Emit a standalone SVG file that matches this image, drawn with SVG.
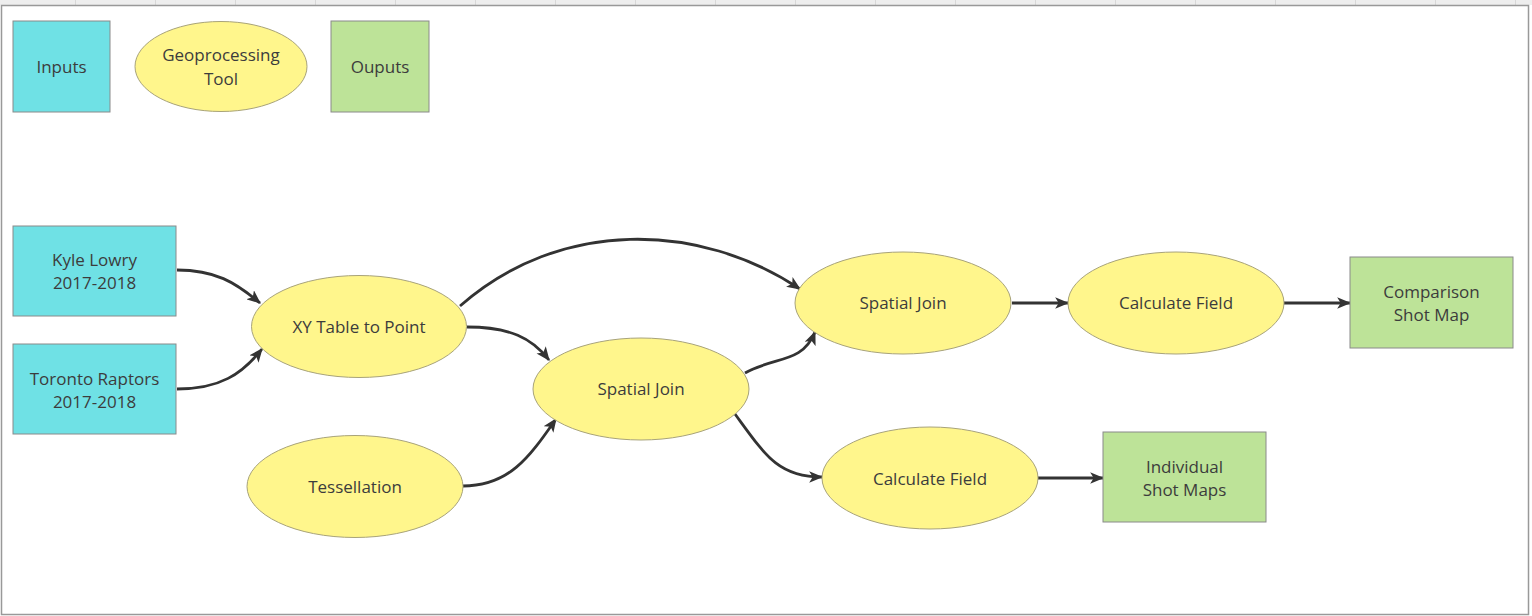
<svg xmlns="http://www.w3.org/2000/svg" width="1532" height="616" viewBox="0 0 1532 616">
  <defs>
    <style>
      .inp { fill: #6fe1e5; stroke: #8a8a8a; stroke-width: 1; }
      .out { fill: #bde398; stroke: #8a8a8a; stroke-width: 1; }
      .tool { fill: #fff68c; stroke: #a8a37a; stroke-width: 1; }
      .lbl { font-family: "Open Sans", "Noto Sans", "Liberation Sans", sans-serif; font-size: 17px; fill: #3c3c3c; text-anchor: middle; }
      .edge { fill: none; stroke: #333333; stroke-width: 2.8; }
      .grid { stroke: #d8d8d8; stroke-width: 1; }
    </style>
    <marker id="arr" viewBox="0 0 12 10" refX="11" refY="5" markerWidth="14" markerHeight="12" markerUnits="userSpaceOnUse" orient="auto">
      <path d="M0,0 L12,5 L0,10 L3,5 Z" fill="#333333"/>
    </marker>
  </defs>

  <rect x="0" y="0" width="1532" height="616" fill="#ffffff"/>
  <g id="header">
    <rect x="0" y="0" width="1532" height="5" fill="#eeeeee"/>
    <g class="grid">
      <line x1="75.5" y1="0" x2="75.5" y2="5"/><line x1="155.5" y1="0" x2="155.5" y2="5"/>
      <line x1="235.5" y1="0" x2="235.5" y2="5"/><line x1="315.5" y1="0" x2="315.5" y2="5"/>
      <line x1="395.5" y1="0" x2="395.5" y2="5"/><line x1="475.5" y1="0" x2="475.5" y2="5"/>
      <line x1="555.5" y1="0" x2="555.5" y2="5"/><line x1="635.5" y1="0" x2="635.5" y2="5"/>
      <line x1="715.5" y1="0" x2="715.5" y2="5"/><line x1="795.5" y1="0" x2="795.5" y2="5"/>
      <line x1="875.5" y1="0" x2="875.5" y2="5"/><line x1="955.5" y1="0" x2="955.5" y2="5"/>
      <line x1="1035.5" y1="0" x2="1035.5" y2="5"/><line x1="1115.5" y1="0" x2="1115.5" y2="5"/>
      <line x1="1195.5" y1="0" x2="1195.5" y2="5"/><line x1="1275.5" y1="0" x2="1275.5" y2="5"/>
      <line x1="1355.5" y1="0" x2="1355.5" y2="5"/><line x1="1435.5" y1="0" x2="1435.5" y2="5"/>
      <line x1="1515.5" y1="0" x2="1515.5" y2="5"/>
    </g>
    <rect x="1.5" y="5.5" width="1527" height="609" fill="none" stroke="#999999" stroke-width="1.5"/>
  </g>

  <g id="legend-inputs">
    <rect class="inp" x="13" y="21" width="97" height="91"/>
    <text class="lbl" x="61.5" y="73">Inputs</text>
  </g>
  <g id="legend-tool">
    <ellipse class="tool" cx="221" cy="66.5" rx="86" ry="45"/>
    <text class="lbl" x="221" y="61">Geoprocessing</text>
    <text class="lbl" x="221" y="85">Tool</text>
  </g>
  <g id="legend-outputs">
    <rect class="out" x="331" y="21" width="98" height="91"/>
    <text class="lbl" x="380" y="73">Ouputs</text>
  </g>

  <g id="connectors">
    <path class="edge" marker-end="url(#arr)" d="M177,270 C215,270 235,282 260,303"/>
    <path class="edge" marker-end="url(#arr)" d="M177,389 C220,389 242,374 262,349"/>
    <path class="edge" marker-end="url(#arr)" d="M460,306 C560,218 700,222 800,289"/>
    <path class="edge" marker-end="url(#arr)" d="M467,327 C510,327 532,338 549,360"/>
    <path class="edge" marker-end="url(#arr)" d="M463,486 C510,486 530,456 556,419"/>
    <path class="edge" marker-end="url(#arr)" d="M745,373 C775,356 802,364 815,332"/>
    <path class="edge" marker-end="url(#arr)" d="M735,414 C765,455 778,477 822,477"/>
    <path class="edge" marker-end="url(#arr)" d="M1012,303 L1068,303"/>
    <path class="edge" marker-end="url(#arr)" d="M1284,303 L1350,303"/>
    <path class="edge" marker-end="url(#arr)" d="M1038,478 L1103,478"/>
  </g>

  <g id="kyle-lowry">
    <rect class="inp" x="13" y="226" width="163" height="90"/>
    <text class="lbl" x="94.5" y="266">Kyle Lowry</text>
    <text class="lbl" x="94.5" y="289">2017-2018</text>
  </g>
  <g id="toronto-raptors">
    <rect class="inp" x="13" y="344" width="163" height="90"/>
    <text class="lbl" x="94.5" y="385">Toronto Raptors</text>
    <text class="lbl" x="94.5" y="408">2017-2018</text>
  </g>
  <g id="xy-table-to-point">
    <ellipse class="tool" cx="359" cy="326.5" rx="107.5" ry="51"/>
    <text class="lbl" x="359" y="333">XY Table to Point</text>
  </g>
  <g id="tessellation">
    <ellipse class="tool" cx="355" cy="486.5" rx="108" ry="51"/>
    <text class="lbl" x="355" y="493">Tessellation</text>
  </g>
  <g id="spatial-join-1">
    <ellipse class="tool" cx="641" cy="389" rx="108" ry="51"/>
    <text class="lbl" x="641" y="395">Spatial Join</text>
  </g>
  <g id="spatial-join-2">
    <ellipse class="tool" cx="903" cy="303" rx="108" ry="51"/>
    <text class="lbl" x="903" y="309">Spatial Join</text>
  </g>
  <g id="calculate-field-1">
    <ellipse class="tool" cx="1176" cy="303" rx="108" ry="51"/>
    <text class="lbl" x="1176" y="309">Calculate Field</text>
  </g>
  <g id="comparison-shot-map">
    <rect class="out" x="1350" y="257" width="163" height="91"/>
    <text class="lbl" x="1431.5" y="298">Comparison</text>
    <text class="lbl" x="1431.5" y="321">Shot Map</text>
  </g>
  <g id="calculate-field-2">
    <ellipse class="tool" cx="930" cy="478" rx="108" ry="51"/>
    <text class="lbl" x="930" y="485">Calculate Field</text>
  </g>
  <g id="individual-shot-maps">
    <rect class="out" x="1103" y="432" width="163" height="90"/>
    <text class="lbl" x="1184.5" y="473">Individual</text>
    <text class="lbl" x="1184.5" y="496">Shot Maps</text>
  </g>
</svg>
